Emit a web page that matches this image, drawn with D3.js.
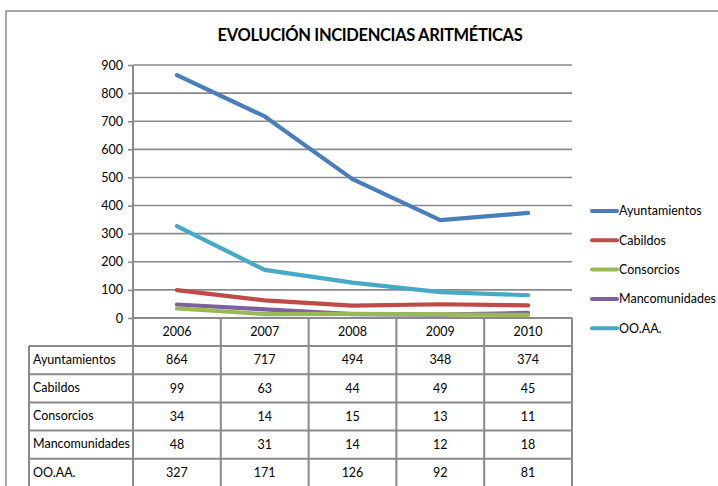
<!DOCTYPE html>
<html>
<head>
<meta charset="utf-8">
<script src="https://cdn.jsdelivr.net/npm/d3@7"></script>
<style>
  body { margin: 0; background: #fff; }
  svg { display: block; font-family: Lato, "Open Sans", sans-serif; }
</style>
</head>
<body>
<div id="chart"></div>
<script>
const years = ["2006", "2007", "2008", "2009", "2010"]
const seriesNames = ["Ayuntamientos", "Cabildos", "Consorcios", "Mancomunidades", "OO.AA."]
const ayuntamientos = [864, 717, 494, 348, 374]
const cabildos = [99, 63, 44, 49, 45]
const consorcios = [34, 14, 15, 13, 11]
const mancomunidades = [48, 31, 14, 12, 18]
const ooaa = [327, 171, 126, 92, 81]
const yTicks = [0, 100, 200, 300, 400, 500, 600, 700, 800, 900]
const colors = ["#4a7ebb", "#be4b48", "#98b954", "#7d60a0", "#46aac5"]

const series = [ayuntamientos, cabildos, consorcios, mancomunidades, ooaa]
    .map((vals, i) => ({ name: seriesNames[i], color: colors[i], values: vals }))

let width = 718, height = 486
let plot = { left: 133, right: 572, top: 65, bottom: 318 }
let rowH = 28.2

const svg = d3.select("#chart").append("svg")
    .attr("width", width)
    .attr("height", height)

// marco exterior
svg.append("rect")
    .attr("x", 6).attr("y", 11)
    .attr("width", 740).attr("height", 500)
    .attr("fill", "none")
    .attr("stroke", "#8c8c8c")
    .attr("stroke-width", 1.5)

svg.append("text")
    .attr("x", 370).attr("y", 41)
    .attr("text-anchor", "middle")
    .style("font-size", "16.5px")
    .style("font-weight", "bold")
    .style("letter-spacing", "-0.35px")
    .attr("fill", "#000")
    .text("EVOLUCIÓN INCIDENCIAS ARITMÉTICAS")

const xScale = d3.scaleBand().domain(years).range([plot.left, plot.right])
const yScale = d3.scaleLinear().domain([0, 900]).range([plot.bottom, plot.top])
const cx = d => xScale(d) + xScale.bandwidth() / 2

// rejilla
svg.append("g")
    .selectAll("line")
    .data(yTicks)
    .enter().append("line")
    .attr("x1", plot.left).attr("x2", plot.right)
    .attr("y1", d => yScale(d)).attr("y2", d => yScale(d))
    .attr("stroke", "#8a8a8a")
    .attr("stroke-width", 1.6)

const yAxis = d3.axisLeft(yScale).tickValues(yTicks).tickSize(5).tickPadding(5)
const gy = svg.append("g")
    .attr("transform", `translate(${plot.left}, 0)`)
    .call(yAxis)
gy.select(".domain").remove()
gy.selectAll(".tick line").attr("stroke", "#8a8a8a").attr("stroke-width", 1.6)
gy.selectAll(".tick text").style("font-size", "12.5px").attr("fill", "#000").style("font-family", "Lato, sans-serif")

// tabla de datos
let tableTop = plot.bottom
let headerH = 28
let labelLeft = 29
const rowScale = d3.scaleBand().domain(seriesNames)
    .range([tableTop + headerH, tableTop + headerH + rowH * seriesNames.length])

const grid = svg.append("g").attr("stroke", "#8a8a8a").attr("stroke-width", 2)

// lineas horizontales
grid.selectAll(".hrow")
    .data(seriesNames.concat(["__end"]))
    .enter().append("line")
    .attr("x1", labelLeft).attr("x2", plot.right)
    .attr("y1", (d, i) => tableTop + headerH + rowH * i)
    .attr("y2", (d, i) => tableTop + headerH + rowH * i)

// lineas verticales de columnas (incluye eje)
grid.selectAll(".vcol")
    .data(years.concat(["__end"]))
    .enter().append("line")
    .attr("x1", (d, i) => plot.left + xScale.bandwidth() * i)
    .attr("x2", (d, i) => plot.left + xScale.bandwidth() * i)
    .attr("y1", (d, i) => i == 0 ? plot.top : tableTop)
    .attr("y2", height + 5)

grid.append("line")
    .attr("x1", labelLeft).attr("x2", labelLeft)
    .attr("y1", tableTop + headerH).attr("y2", height + 5)

svg.append("line")
    .attr("x1", plot.left).attr("x2", plot.right)
    .attr("y1", plot.bottom).attr("y2", plot.bottom)
    .attr("stroke", "#8a8a8a").attr("stroke-width", 2)

svg.append("g").selectAll("text")
    .data(years)
    .enter().append("text")
    .attr("x", d => cx(d))
    .attr("y", tableTop + headerH / 2)
    .attr("dy", "0.35em")
    .attr("text-anchor", "middle")
    .style("font-size", "12.5px")
    .attr("fill", "#000")
    .text(d => d)

const rows = svg.append("g").selectAll(".row")
    .data(series)
    .enter().append("g")
    .attr("class", "row")
    .attr("transform", d => `translate(0, ${rowScale(d.name) + rowH / 2})`)

rows.append("text")
    .attr("x", labelLeft + 4)
    .attr("dy", "0.3em")
    .style("font-size", "12.5px")
    .attr("fill", "#000")
    .text(d => d.name)

rows.selectAll(".val")
    .data(d => d.values.map((v, i) => ({ year: years[i], v: v })))
    .enter().append("text")
    .attr("x", d => cx(d.year))
    .attr("dy", "0.35em")
    .attr("text-anchor", "middle")
    .style("font-size", "12.5px")
    .attr("fill", "#000")
    .text(d => d.v)

// lineas de series (dibujadas en orden inverso: la primera queda encima)
const line = d3.line()
    .x((d, i) => cx(years[i]))
    .y(d => yScale(d))

svg.append("g").selectAll("path")
    .data(series.slice().reverse())
    .enter().append("path")
    .attr("d", d => line(d.values))
    .attr("fill", "none")
    .attr("stroke", d => d.color)
    .attr("stroke-width", 4.2)
    .attr("stroke-linejoin", "round")
    .attr("stroke-linecap", "round")

// leyenda
const legend = svg.selectAll(".legend")
    .data(series)
    .enter().append("g")
    .attr("class", "legend")
    .attr("transform", (d, i) => `translate(592, ${211 + i * 29.3})`)

legend.append("line")
    .attr("x1", 0).attr("x2", 25)
    .attr("stroke", d => d.color)
    .attr("stroke-width", 4)
    .attr("stroke-linecap", "round")

legend.append("text")
    .attr("x", 27)
    .attr("dy", "0.35em")
    .style("font-size", "12.5px")
    .attr("fill", "#000")
    .text(d => d.name)
</script>
</body>
</html>
